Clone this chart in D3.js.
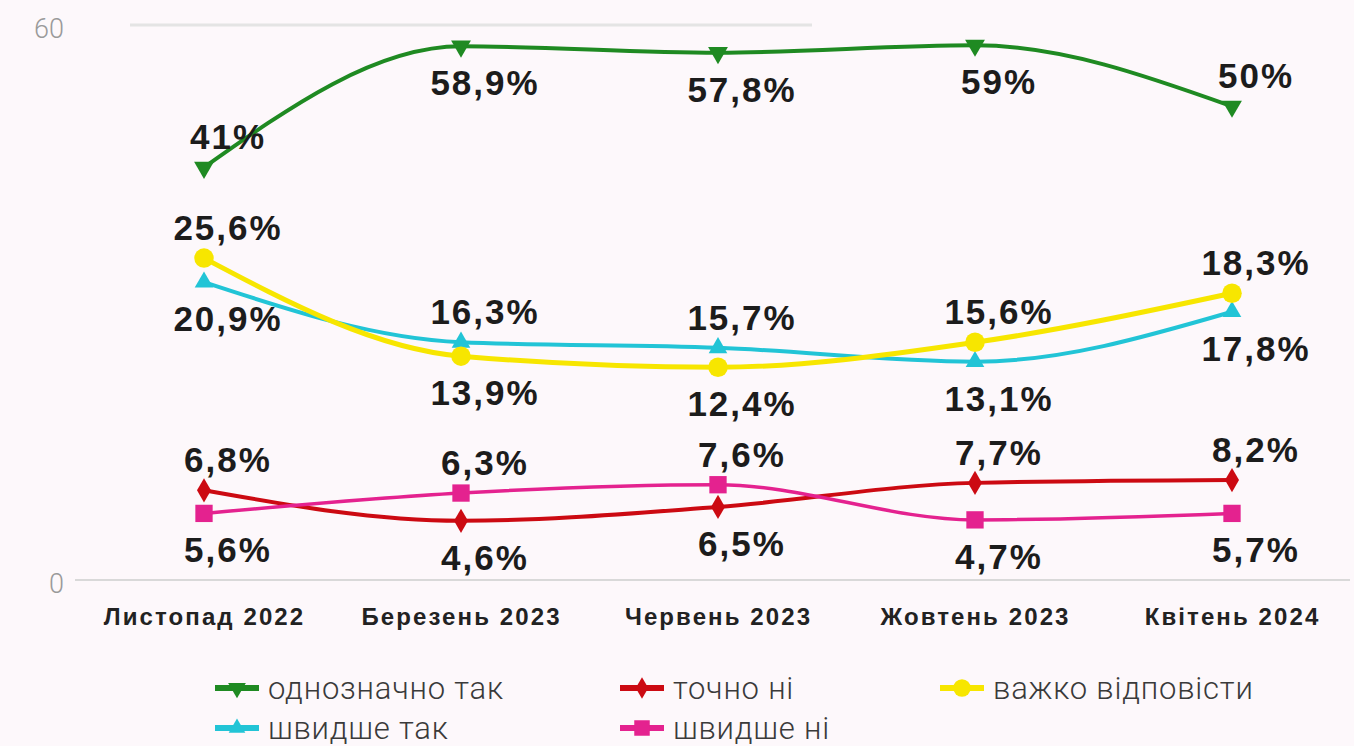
<!DOCTYPE html>
<html>
<head>
<meta charset="utf-8">
<script src="https://cdn.jsdelivr.net/npm/d3@7"></script>
<style>
    body { margin: 0; background: #fdf8fb; }
    svg { display: block; }
</style>
</head>
<body>
<script>
// Categories (survey waves)
const categories = ["Листопад 2022", "Березень 2023", "Червень 2023", "Жовтень 2023", "Квітень 2024"];

const odnoznachnoTak = [44.6, 57.7, 57.0, 57.8, 51.2];
const shvydsheTak    = [32.2, 25.7, 25.1, 23.6, 29.0];
const vazhkoVidpov   = [34.8, 24.2, 23.0, 25.7, 31.0];
const tochnoNi       = [9.7, 6.4, 7.9, 10.5, 10.8];
const shvydsheNi     = [7.2, 9.4, 10.3, 6.5, 7.2];

// Printed value labels
const odnoznachnoTakLabels = ["41%", "58,9%", "57,8%", "59%", "50%"];
const shvydsheTakLabels    = ["20,9%", "16,3%", "15,7%", "13,1%", "17,8%"];
const vazhkoVidpovLabels   = ["25,6%", "13,9%", "12,4%", "15,6%", "18,3%"];
const tochnoNiLabels       = ["6,8%", "4,6%", "6,5%", "7,7%", "8,2%"];
const shvydsheNiLabels     = ["5,6%", "6,3%", "7,6%", "4,7%", "5,7%"];

const yTicks = [0, 60];

const width = 1354;
const height = 746;

// series in drawing order; "side" says whether the label sits above or below the marker
const series = [
    { name: "швидше так", values: shvydsheTak, labels: shvydsheTakLabels, color: "#22c4d6", symbol: d3.symbolTriangle, size: 150, stroke: 4,
      side: ["b", "a", "a", "b", "b"] },
    { name: "важко відповісти", values: vazhkoVidpov, labels: vazhkoVidpovLabels, color: "#f7e600", symbol: d3.symbolCircle, size: 300, stroke: 5,
      side: ["a", "b", "b", "a", "a"] },
    { name: "точно ні", values: tochnoNi, labels: tochnoNiLabels, color: "#cc0a12", symbol: d3.symbolDiamond, size: 170, stroke: 4,
      side: ["a", "b", "b", "a", "a"] },
    { name: "швидше ні", values: shvydsheNi, labels: shvydsheNiLabels, color: "#e4228f", symbol: d3.symbolSquare, size: 300, stroke: 3.5,
      side: ["b", "a", "a", "b", "b"] },
    { name: "однозначно так", values: odnoznachnoTak, labels: odnoznachnoTakLabels, color: "#1f8a22", symbol: d3.symbolTriangle, size: 170, stroke: 4, down: true,
      side: ["a", "b", "b", "b", "a"] }
];

const legendOrder = ["однозначно так", "точно ні", "важко відповісти", "швидше так", "швидше ні"];

const x = d3.scalePoint()
    .domain(categories)
    .range([204, 1232]);

const y = d3.scaleLinear()
    .domain([0, 60])
    .range([580, 25]);

const svg = d3.select("body")
    .append("svg")
        .attr("width", width)
        .attr("height", height);

// Gridlines
svg.append("line")
    .attr("x1", 130).attr("x2", 812)
    .attr("y1", y(60)).attr("y2", y(60))
    .attr("stroke", "#e4e4e4")
    .attr("stroke-width", 3);
svg.append("line")
    .attr("x1", 75).attr("x2", 1350)
    .attr("y1", y(0)).attr("y2", y(0))
    .attr("stroke", "#d9d9d9")
    .attr("stroke-width", 2);

// Y axis labels
svg.append("g")
    .attr("transform", "translate(64,4)")
    .call(d3.axisLeft(y).tickValues(yTicks).tickSize(0).tickPadding(0))
    .call(g => g.select(".domain").remove())
    .call(g => g.selectAll("text")
        .attr("font-family", "Roboto, sans-serif")
        .attr("font-weight", 300)
        .attr("font-size", 27)
        .attr("fill", "#9a9a9a"));

// X axis labels
svg.append("g")
    .attr("transform", `translate(0,${y(0)})`)
    .call(d3.axisBottom(x).tickSize(0).tickPadding(0))
    .call(g => g.select(".domain").remove())
    .call(g => g.selectAll("text")
        .attr("dy", 45)
        .attr("font-family", "Liberation Sans, Arial, sans-serif")
        .attr("font-weight", 700)
        .attr("font-size", 24)
        .attr("letter-spacing", 2.1)
        .attr("fill", "#222"));

const line = d3.line()
    .x((d, i) => x(categories[i]))
    .y(d => y(d))
    .curve(d3.curveMonotoneX);

function markerTransform(s, cx, cy) {
    return `translate(${cx},${cy})` + (s.down ? " rotate(180)" : "");
}

// Lines and markers
series.forEach(s => {
    svg.append("path")
        .datum(s.values)
        .attr("fill", "none")
        .attr("stroke", s.color)
        .attr("stroke-width", s.stroke)
        .attr("d", line);

    svg.append("g")
        .selectAll("path")
        .data(s.values)
        .join("path")
            .attr("d", d3.symbol(s.symbol, s.size))
            .attr("transform", (d, i) => markerTransform(s, x(categories[i]), y(d)))
            .attr("fill", s.color);
});

// Value labels
series.forEach(s => {
    svg.append("g")
        .selectAll("text")
        .data(s.values)
        .join("text")
            .attr("x", (d, i) => x(categories[i]) + 24)
            .attr("y", (d, i) => y(d) + (s.side[i] === "a" ? -18 : 49))
            .attr("text-anchor", "middle")
            .attr("font-family", "Liberation Sans, Arial, sans-serif")
            .attr("font-weight", 700)
            .attr("font-size", 35)
            .attr("letter-spacing", 2)
            .attr("fill", "#1c1c1c")
            .text((d, i) => s.labels[i]);
});

// Legend
const legendCols = [215, 620, 940];
const legendRows = [688, 728];

const legend = svg.append("g")
    .selectAll("g")
    .data(legendOrder.map(name => series.find(s => s.name === name)))
    .join("g")
        .attr("transform", (d, i) => `translate(${legendCols[i % 3]},${legendRows[Math.floor(i / 3)]})`);

legend.append("line")
    .attr("x1", 0).attr("x2", 44)
    .attr("stroke", d => d.color)
    .attr("stroke-width", 6);

legend.append("path")
    .attr("d", d => d3.symbol(d.symbol, d.size * 0.8)())
    .attr("transform", d => markerTransform(d, 22, 0))
    .attr("fill", d => d.color);

legend.append("text")
    .attr("x", 53)
    .attr("dy", "0.35em")
    .attr("font-family", "Roboto, sans-serif")
    .attr("font-weight", 300)
    .attr("font-size", 31)
    .attr("letter-spacing", 0.8)
    .attr("fill", "#3a3a3a")
    .text(d => d.name);
</script>
</body>
</html>
